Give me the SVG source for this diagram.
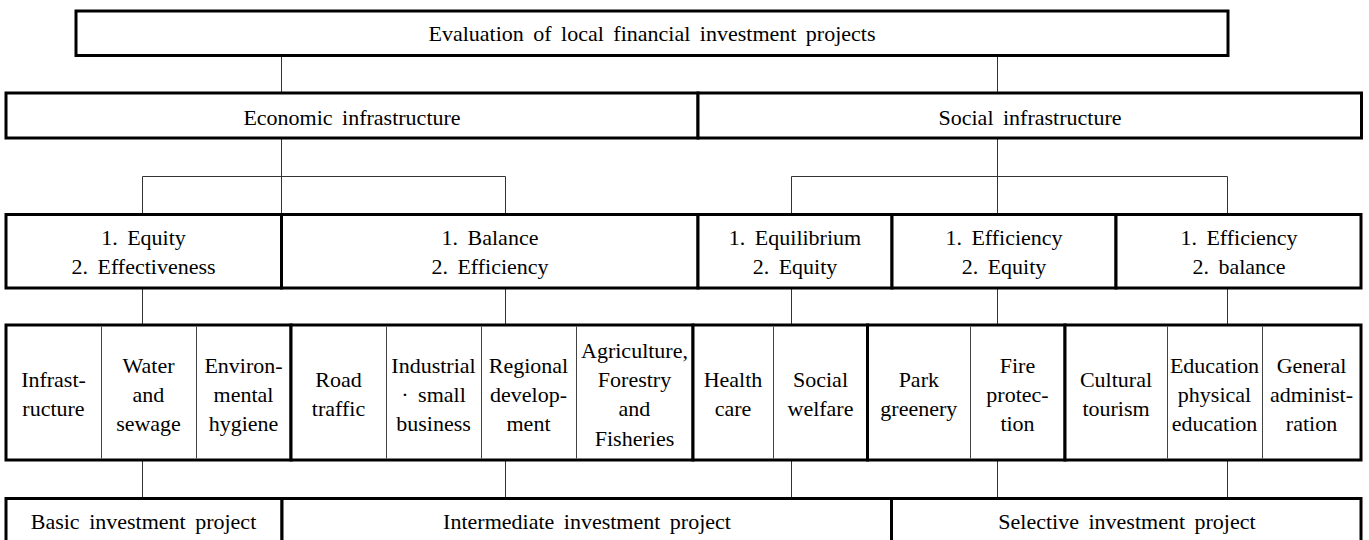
<svg xmlns="http://www.w3.org/2000/svg" width="1369" height="540" viewBox="0 0 1369 540">
<style>
.b{fill:#fff;stroke:#000;stroke-width:3}
.t{font-family:'Liberation Serif','Times New Roman',Times,'DejaVu Serif',serif;font-size:22px;fill:#000;text-anchor:middle;word-spacing:4px}
.c{stroke:#333;stroke-width:1;fill:none}
.d{stroke:#444;stroke-width:1}
</style>
<rect width="1369" height="540" fill="#fff"/>
<g id="connectors" class="c">
<path d="M281.5 55.5V93M997.5 55.5V93"/>
<path d="M281.5 138V214.5M142.5 176.5H505.5M142.5 176.5V214.5M505.5 176.5V214.5"/>
<path d="M997.5 138V214.5M791.5 176.5H1227.5M791.5 176.5V214.5M1227.5 176.5V214.5"/>
<path d="M142.5 288V325M505.5 288V325M791.5 288V325M997.5 288V325M1227.5 288V325"/>
<path d="M142.5 460V498.5M505.5 460V498.5M791.5 460V498.5M997.5 460V498.5M1227.5 460V498.5"/>
</g>
<g id="root">
<rect class="b" x="76" y="11" width="1152" height="44.5"/>
<text class="t" font-family="Liberation Serif, serif" x="652" y="41">Evaluation of local financial investment projects</text>
</g>
<g id="economic">
<rect class="b" x="6" y="93" width="692" height="45"/>
<text class="t" x="352" y="124.5">Economic infrastructure</text>
</g>
<g id="social">
<rect class="b" x="698" y="93" width="663.5" height="45"/>
<text class="t" x="1030" y="124.5">Social infrastructure</text>
</g>
<g id="crit1">
<rect class="b" x="6" y="214.5" width="275.5" height="73.5"/>
<text class="t" x="143.5"><tspan x="143.5" y="245">1. Equity</tspan><tspan x="143.5" y="273.5">2. Effectiveness</tspan></text>
</g>
<g id="crit2">
<rect class="b" x="281.5" y="214.5" width="416.5" height="73.5"/>
<text class="t" x="490"><tspan x="490" y="245">1. Balance</tspan><tspan x="490" y="273.5">2. Efficiency</tspan></text>
</g>
<g id="crit3">
<rect class="b" x="698" y="214.5" width="194" height="73.5"/>
<text class="t" x="795"><tspan x="795" y="245">1. Equilibrium</tspan><tspan x="795" y="273.5">2. Equity</tspan></text>
</g>
<g id="crit4">
<rect class="b" x="892" y="214.5" width="224" height="73.5"/>
<text class="t" x="1004"><tspan x="1004" y="245">1. Efficiency</tspan><tspan x="1004" y="273.5">2. Equity</tspan></text>
</g>
<g id="crit5">
<rect class="b" x="1116" y="214.5" width="245" height="73.5"/>
<text class="t" x="1239"><tspan x="1239" y="245">1. Efficiency</tspan><tspan x="1239" y="273.5">2. balance</tspan></text>
</g>
<g id="sectors1">
<rect class="b" x="6" y="325" width="285" height="135"/>
<line class="d" x1="101.5" y1="326.5" x2="101.5" y2="458.5"/>
<line class="d" x1="196.5" y1="326.5" x2="196.5" y2="458.5"/>
</g>
<g id="sectors2">
<rect class="b" x="291" y="325" width="402" height="135"/>
<line class="d" x1="386.5" y1="326.5" x2="386.5" y2="458.5"/>
<line class="d" x1="481.5" y1="326.5" x2="481.5" y2="458.5"/>
<line class="d" x1="576.5" y1="326.5" x2="576.5" y2="458.5"/>
</g>
<g id="sectors3">
<rect class="b" x="693" y="325" width="174.5" height="135"/>
<line class="d" x1="773.5" y1="326.5" x2="773.5" y2="458.5"/>
</g>
<g id="sectors4">
<rect class="b" x="867.5" y="325" width="197.5" height="135"/>
<line class="d" x1="970.5" y1="326.5" x2="970.5" y2="458.5"/>
</g>
<g id="sectors5">
<rect class="b" x="1065" y="325" width="296" height="135"/>
<line class="d" x1="1167.5" y1="326.5" x2="1167.5" y2="458.5"/>
<line class="d" x1="1262.5" y1="326.5" x2="1262.5" y2="458.5"/>
</g>
<g id="s-infra"><text class="t"><tspan x="53.5" y="387.1">Infrast-</tspan><tspan x="53.5" y="416.3">ructure</tspan></text></g>
<g id="s-water"><text class="t"><tspan x="148.5" y="372.5">Water</tspan><tspan x="148.5" y="401.7">and</tspan><tspan x="148.5" y="430.9">sewage</tspan></text></g>
<g id="s-env"><text class="t"><tspan x="243.5" y="372.5">Environ-</tspan><tspan x="243.5" y="401.7">mental</tspan><tspan x="243.5" y="430.9">hygiene</tspan></text></g>
<g id="s-road"><text class="t"><tspan x="338.5" y="387.1">Road</tspan><tspan x="338.5" y="416.3">traffic</tspan></text></g>
<g id="s-ind"><text class="t"><tspan x="433.5" y="372.5">Industrial</tspan><tspan x="433.5" y="401.7">· small</tspan><tspan x="433.5" y="430.9">business</tspan></text></g>
<g id="s-reg"><text class="t"><tspan x="528.5" y="372.5">Regional</tspan><tspan x="528.5" y="401.7">develop-</tspan><tspan x="528.5" y="430.9">ment</tspan></text></g>
<g id="s-agri"><text class="t"><tspan x="634.5" y="357.9">Agriculture,</tspan><tspan x="634.5" y="387.1">Forestry</tspan><tspan x="634.5" y="416.3">and</tspan><tspan x="634.5" y="445.5">Fisheries</tspan></text></g>
<g id="s-health"><text class="t"><tspan x="733" y="387.1">Health</tspan><tspan x="733" y="416.3">care</tspan></text></g>
<g id="s-welfare"><text class="t"><tspan x="820.5" y="387.1">Social</tspan><tspan x="820.5" y="416.3">welfare</tspan></text></g>
<g id="s-park"><text class="t"><tspan x="918.8" y="387.1">Park</tspan><tspan x="918.8" y="416.3">greenery</tspan></text></g>
<g id="s-fire"><text class="t"><tspan x="1017.5" y="372.5">Fire</tspan><tspan x="1017.5" y="401.7">protec-</tspan><tspan x="1017.5" y="430.9">tion</tspan></text></g>
<g id="s-culture"><text class="t"><tspan x="1116" y="387.1">Cultural</tspan><tspan x="1116" y="416.3">tourism</tspan></text></g>
<g id="s-edu"><text class="t"><tspan x="1214.5" y="372.5">Education</tspan><tspan x="1214.5" y="401.7">physical</tspan><tspan x="1214.5" y="430.9">education</tspan></text></g>
<g id="s-admin"><text class="t"><tspan x="1311.5" y="372.5">General</tspan><tspan x="1311.5" y="401.7">administ-</tspan><tspan x="1311.5" y="430.9">ration</tspan></text></g>
<g id="basic">
<rect class="b" x="6" y="498.5" width="276" height="50"/>
<text class="t" x="143.5" y="529.3">Basic investment project</text>
</g>
<g id="intermediate">
<rect class="b" x="282" y="498.5" width="609.5" height="50"/>
<text class="t" x="587" y="529.3">Intermediate investment project</text>
</g>
<g id="selective">
<rect class="b" x="891.5" y="498.5" width="469.5" height="50"/>
<text class="t" x="1127" y="529.3">Selective investment project</text>
</g>
</svg>
